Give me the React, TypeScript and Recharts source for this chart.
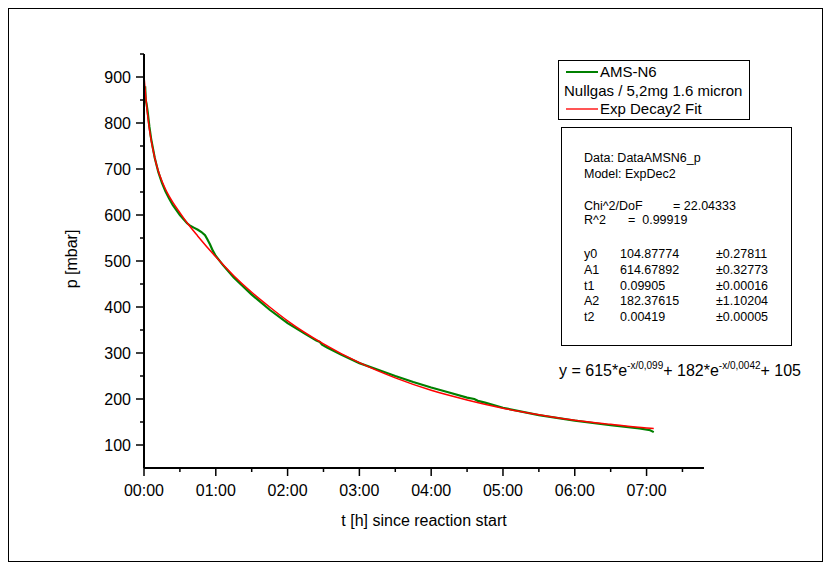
import React from "react";
import { LineChart, Line, XAxis, YAxis, Label } from "recharts";

// measured data (time in hours since start, pressure in mbar)
const dataTime = [
  0, 0.008, 0.016, 0.024, 0.035, 0.05, 0.075, 0.1, 0.15, 0.2, 0.25, 0.3, 0.35,
  0.4, 0.5, 0.6, 0.65, 0.7, 0.75, 0.8, 0.85, 0.88, 0.92, 0.96, 1.0, 1.1, 1.25,
  1.5, 1.75, 2.0, 2.25, 2.4, 2.45, 2.48, 2.55, 2.75, 3.0, 3.25, 3.5, 3.75, 4.0,
  4.25, 4.5, 4.6, 4.65, 4.75, 5.0, 5.5, 6.0, 6.5, 6.9, 7.05, 7.1,
];
const dataPressure = [
  872, 846, 880, 850, 842, 826, 792, 765, 724, 693, 670, 651, 636, 622, 600,
  582, 576, 572, 568, 563, 556, 548, 536, 522, 511, 491, 464, 427, 394, 365,
  341, 327, 324, 318, 312, 296, 278, 264, 250, 237, 225, 214, 203, 200, 196,
  192, 181, 165, 153, 143, 136, 132, 128,
];

// ExpDec2 fit curve
const fitTime = [
  0, 0.025, 0.05, 0.075, 0.1, 0.15, 0.2, 0.25, 0.3, 0.35, 0.4, 0.5, 0.6, 0.75,
  1.0, 1.25, 1.5, 1.75, 2.0, 2.5, 3.0, 3.5, 4.0, 4.5, 5.0, 5.5, 6.0, 6.5, 7.0,
  7.1,
];
const fitPressure = [
  902, 856, 818, 787, 762, 724, 695, 674, 656, 641, 628, 605, 583, 554, 509,
  468, 432, 400, 370, 320, 279, 246, 219, 198, 180, 166, 154, 145, 137, 136,
];

const xTicks = [0, 0.5, 1, 1.5, 2, 2.5, 3, 3.5, 4, 4.5, 5, 5.5, 6, 6.5, 7, 7.5];
const yTicks = [
  100, 150, 200, 250, 300, 350, 400, 450, 500, 550, 600, 650, 700, 750, 800,
  850, 900, 950,
];

const fitParams = [
  { name: "y0", value: "104.87774", err: "±0.27811" },
  { name: "A1", value: "614.67892", err: "±0.32773" },
  { name: "t1", value: "0.09905", err: "±0.00016" },
  { name: "A2", value: "182.37615", err: "±1.10204" },
  { name: "t2", value: "0.00419", err: "±0.00005" },
];

const measured = dataTime.map((t, i) => ({ t, p: dataPressure[i] }));
const fit = fitTime.map((t, i) => ({ t, p: fitPressure[i] }));

const FONT = '"Liberation Sans", Arial, sans-serif';

const fmtHour = (v: number) => `${String(v).padStart(2, "0")}:00`;

const XTick = (props: any) => {
  const { x, y, payload } = props;
  const major = Number.isInteger(payload.value);
  return (
    <g>
      <line x1={x} y1={y} x2={x} y2={y + (major ? 8 : 4)} stroke="#000" strokeWidth={1.5} />
      {major && (
        <text x={x} y={y + 22} textAnchor="middle" dominantBaseline="central" fontSize={16} fill="#000" fontFamily={FONT}>
          {fmtHour(payload.value)}
        </text>
      )}
    </g>
  );
};

const YTick = (props: any) => {
  const { x, y, payload } = props;
  const major = payload.value % 100 === 0;
  return (
    <g>
      <line x1={x} y1={y} x2={x - (major ? 8 : 4)} y2={y} stroke="#000" strokeWidth={1.5} />
      {major && (
        <text x={x - 13} y={y} textAnchor="end" dominantBaseline="central" fontSize={16} fill="#000" fontFamily={FONT}>
          {payload.value}
        </text>
      )}
    </g>
  );
};

const abs = (left: number, top: number): React.CSSProperties => ({
  position: "absolute",
  left,
  top,
  whiteSpace: "nowrap",
  lineHeight: "15px",
});

export default function App() {
  return (
    <div
      style={{
        position: "relative",
        width: 815,
        height: 554,
        border: "1px solid #000",
        boxSizing: "border-box",
        fontFamily: FONT,
        background: "#fff",
      }}
    >
      <LineChart width={813} height={552} margin={{ top: 45, right: 118, bottom: 0, left: 0 }}>
        <XAxis
          dataKey="t"
          type="number"
          domain={[0, 7.8]}
          ticks={xTicks}
          interval={0}
          tickSize={0}
          tickMargin={0}
          tickLine={false}
          tick={XTick}
          height={93}
          axisLine={{ stroke: "#000", strokeWidth: 2 }}
          allowDataOverflow
        >
          <Label
            content={() => (
              <text x={415} y={511} textAnchor="middle" dominantBaseline="central" fontSize={16} fontFamily={FONT} fill="#000">
                t [h] since reaction start
              </text>
            )}
          />
        </XAxis>
        <YAxis
          dataKey="p"
          type="number"
          domain={[50, 950]}
          ticks={yTicks}
          interval={0}
          tickSize={0}
          tickMargin={0}
          tickLine={false}
          tick={YTick}
          width={135}
          axisLine={{ stroke: "#000", strokeWidth: 2 }}
          allowDataOverflow
        >
          <Label
            content={() => (
              <text
                x={62}
                y={250}
                transform="rotate(-90 62 250)"
                textAnchor="middle"
                dominantBaseline="central"
                fontSize={16}
                fontFamily={FONT}
                fill="#000"
              >
                p [mbar]
              </text>
            )}
          />
        </YAxis>
        <Line data={measured} dataKey="p" type="linear" stroke="#008000" strokeWidth={2.2} dot={false} isAnimationActive={false} />
        <Line data={fit} dataKey="p" type="monotone" stroke="#ff0000" strokeWidth={1.5} dot={false} isAnimationActive={false} />
      </LineChart>

      {/* legend */}
      <div
        style={{
          position: "absolute",
          left: 549,
          top: 51,
          width: 192,
          height: 60,
          border: "1px solid #000",
          boxSizing: "border-box",
          fontSize: 15,
          background: "#fff",
        }}
      >
        <div style={{ ...abs(7, 2), lineHeight: "18px", display: "flex", alignItems: "center" }}>
          <span style={{ display: "inline-block", width: 32, borderTop: "2px solid #008000", marginRight: 2 }} />
          AMS-N6
        </div>
        <div style={{ ...abs(5, 21), lineHeight: "18px" }}>Nullgas / 5,2mg 1.6 micron</div>
        <div style={{ ...abs(7, 39), lineHeight: "18px", display: "flex", alignItems: "center" }}>
          <span style={{ display: "inline-block", width: 32, borderTop: "2px solid #ff5555", marginRight: 2 }} />
          Exp Decay2 Fit
        </div>
      </div>

      {/* fit statistics */}
      <div
        style={{
          position: "absolute",
          left: 552,
          top: 118,
          width: 231,
          height: 219,
          border: "1px solid #000",
          boxSizing: "border-box",
          fontSize: 12.5,
          background: "#fff",
        }}
      >
        <div style={abs(22, 23)}>Data: DataAMSN6_p</div>
        <div style={abs(22, 39)}>Model: ExpDec2</div>
        <div style={abs(22, 71)}>Chi^2/DoF</div>
        <div style={abs(111, 71)}>= 22.04333</div>
        <div style={abs(22, 85)}>R^2</div>
        <div style={abs(66, 85)}>=&nbsp; 0.99919</div>
        {fitParams.map((r, i) => (
          <React.Fragment key={r.name}>
            <div style={abs(22, 119 + i * 15.8)}>{r.name}</div>
            <div style={abs(58, 119 + i * 15.8)}>{r.value}</div>
            <div style={abs(154, 119 + i * 15.8)}>{r.err}</div>
          </React.Fragment>
        ))}
      </div>

      {/* fit equation */}
      <div style={{ position: "absolute", left: 550, top: 347, fontSize: 16, lineHeight: "20px", whiteSpace: "nowrap" }}>
        y = 615*e<sup style={{ fontSize: 10, verticalAlign: 7 }}>-x/0,099</sup>+ 182*e
        <sup style={{ fontSize: 10, verticalAlign: 7 }}>-x/0,0042</sup>+ 105
      </div>
    </div>
  );
}
